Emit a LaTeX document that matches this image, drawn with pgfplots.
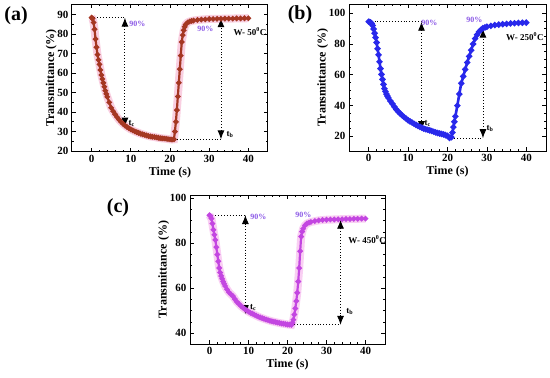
\documentclass[border=0pt]{standalone}
\usepackage{fontspec}
\setmainfont{Liberation Serif}
\usepackage{pgfplots}
\pgfplotsset{compat=1.18}
\usetikzlibrary{arrows.meta}
\definecolor{ared}{RGB}{165,55,35}
\definecolor{apink}{RGB}{245,175,205}
\definecolor{bblue}{RGB}{40,40,235}
\definecolor{cmag}{RGB}{195,70,225}
\definecolor{cpink}{RGB}{245,175,235}
\definecolor{purp}{RGB}{140,90,230}
\tikzset{
  pct/.style={text=purp, font=\fontsize{8}{9}\selectfont\bfseries},
  lab/.style={font=\fontsize{9}{10}\selectfont\bfseries},
}
\pgfplotsset{
  panel/.style={
    scale only axis,
    axis line style={line width=1pt},
    tick style={line width=0.8pt,black},
    tick align=inside,
    xtick pos=both, ytick pos=both,
    major tick length=4pt, minor tick length=2pt,
    xmin=-5, xmax=45,
    xtick={0,10,20,30,40},
    minor x tick num=4,
    /pgf/number format/assume math mode=true,
    ticklabel style={font=\fontsize{11}{12}\selectfont\bfseries},
    xlabel style={font=\fontsize{12}{13}\selectfont\bfseries, yshift=3pt},
    ylabel style={font=\fontsize{12}{13}\selectfont\bfseries, yshift=-6pt},
    xlabel={Time (s)},
    ylabel={Transmittance (\%)},
    clip=false,
  },
  dline/.style={black, line width=0.9pt, dotted, no marks},
  darr/.style={black, line width=0.9pt, dotted, no marks, {Latex[length=9pt,width=7pt]}-{Latex[length=9pt,width=7pt]}},
}
\begin{document}
\begin{tikzpicture}
\useasboundingbox (0,0) rectangle (550pt,-378pt);
% ---------------- (a)
\begin{axis}[panel, at={(72pt,-4pt)}, anchor=north west, width=196pt, height=148pt,
  ymin=19.5, ymax=95.5, ytick={20,30,40,50,60,70,80,90}, minor y tick num=1]
\addplot[apink, line width=8pt, opacity=0.6, no marks] coordinates {
(0,88.5)(0.25,88)(0.5,86)(0.75,82.5)(1,77.5)(1.5,69.5)(2,64.5)(2.5,59)(3,55)(3.5,51)(4,47.8)(4.5,45)(5,42.2)(5.5,40.4)(6,38.8)(7,36.1)(8,34)(9,32.4)(10,31.1)(11,30.1)(12,29.3)(13,28.6)(14,28)(15,27.5)(16,27.2)(17,26.8)(18,26.5)(19,26.3)(20,26)(20.5,25.9)(21,26)(21.5,35)(22,48)(22.5,62)(23,76)(23.5,82)(24,85)(24.5,86)(25,86.5)(26,87)(28,87.5)(30,87.8)(35,88)(40,88.2)};
\addplot[ared, line width=2.2pt, mark=*, mark size=1.5pt] coordinates {
(0,88.5)(0.25,88)(0.5,86)(0.75,82.5)(1,77.5)(1.25,73.3)(1.5,69.5)(1.75,66.8)(2,64.5)(2.25,61.6)(2.5,59)(2.75,57)(3,55)(3.25,53)(3.5,51)(3.75,49.3)(4,47.8)(4.5,45)(5,42.2)(5.5,40.4)(6,38.8)(6.5,37.4)(7,36.1)(7.5,35)(8,34)(8.5,33.1)(9,32.4)(9.5,31.7)(10,31.1)(10.5,30.6)(11,30.1)(11.5,29.7)(12,29.3)(12.5,28.9)(13,28.6)(13.5,28.3)(14,28)(14.5,27.7)(15,27.5)(15.5,27.3)(16,27.2)(16.5,27)(17,26.8)(17.5,26.6)(18,26.5)(18.5,26.4)(19,26.3)(19.5,26.1)(20,26)(20.5,25.9)(21,26)(21.25,30)(21.5,35)(21.75,41)(22,48)(22.25,55)(22.5,62)(22.75,69)(23,76)(23.25,79.5)(23.5,82)(23.75,83.8)(24,85)(24.5,86)(25,86.5)(25.5,86.8)(26,87)(27,87.3)(28,87.5)(29,87.6)(30,87.8)(31,87.8)(32,87.9)(33,87.9)(34,88)(35,88)(36,88)(37,88.1)(38,88.1)(39,88.2)(40,88.2)};
\addplot[dline] coordinates {(0,88.5)(8.5,88.5)};
\addplot[darr] coordinates {(8.5,88.5)(8.5,32.5)};
\addplot[dline] coordinates {(21,26)(33,26)};
\addplot[darr] coordinates {(33,26)(33,88.2)};
\node[pct] at (axis cs:11.7,85.3) {90\%};
\node[pct] at (axis cs:29,82.6) {90\%};
\node[lab, anchor=west] at (axis cs:35.3,81.3) {W- 50\textsuperscript{0}C};
\node[lab] at (axis cs:10.2,34) {t\textsubscript{c}};
\node[lab] at (axis cs:35.3,28.5) {t\textsubscript{b}};
\end{axis}
% ---------------- (b)
\begin{axis}[panel, at={(349pt,-4pt)}, anchor=north west, width=197pt, height=147pt,
  ymin=10.5, ymax=106, ytick={20,40,60,80,100}, minor y tick num=3]
\addplot[bblue, line width=2.6pt, mark=*, mark size=1.6pt] coordinates {
(0,94.5)(0.25,94.3)(0.5,94)(0.75,93.3)(1,92)(1.25,89.8)(1.5,87)(1.75,84.2)(2,81)(2.25,77)(2.5,73)(2.75,68.5)(3,64)(3.25,60.3)(3.5,57)(3.75,53.8)(4,51)(4.25,49.2)(4.5,47.5)(4.75,46.2)(5,45)(5.5,43)(6,41.2)(6.5,39.3)(7,37.5)(7.5,36.1)(8,34.8)(8.5,33.6)(9,32.5)(9.5,31.5)(10,30.5)(10.5,29.7)(11,29)(11.5,28.2)(12,27.5)(12.5,26.8)(13,26.2)(13.5,25.6)(14,25)(14.5,24.6)(15,24.3)(15.5,23.9)(16,23.5)(16.5,23)(17,22.6)(17.5,22.2)(18,21.9)(18.5,21.6)(19,21.3)(19.5,20.8)(20,20.3)(20.5,19)(21,19.5)(21.25,22.5)(21.5,26)(21.75,29.5)(22,33)(22.5,40)(23,47.5)(23.5,54.5)(24,59)(24.5,63.5)(25,68)(25.5,72)(26,76)(26.5,80)(27,83.5)(27.5,86)(28,88)(28.5,89.3)(29,90.3)(29.5,90.8)(30,91.2)(31,91.8)(32,92.3)(33,92.6)(34,92.9)(35,93.1)(36,93.4)(37,93.5)(38,93.7)(39,93.8)(40,93.9)};
\addplot[dline] coordinates {(0,94.5)(13.4,94.5)};
\addplot[darr] coordinates {(13.4,94.5)(13.4,24)};
\addplot[dline] coordinates {(21,18.8)(29,18.8)};
\addplot[darr] coordinates {(29,18.8)(29,90)};
\node[pct] at (axis cs:15.4,93.5) {90\%};
\node[pct] at (axis cs:26.8,95.8) {90\%};
\node[lab, anchor=west] at (axis cs:34,84.8) {W- 250\textsuperscript{0}C};
\node[lab] at (axis cs:15,28.5) {t\textsubscript{c}};
\node[lab] at (axis cs:30.8,25.3) {t\textsubscript{b}};
\end{axis}
% ---------------- (c)
\begin{axis}[panel, at={(190pt,-195pt)}, anchor=north west, width=195pt, height=149pt,
  ymin=35.2, ymax=101.5, ytick={40,60,80,100}, minor y tick num=3]
\addplot[cpink, line width=8pt, opacity=0.6, no marks] coordinates {
(0,92.5)(0.5,91)(1,86)(1.5,81.5)(2,75)(2.5,69)(3,65.5)(3.5,63)(4,61)(4.5,59.5)(5,58.2)(6,56.5)(7,54)(8,52.2)(9,50.8)(10,49.6)(11,48.7)(12,47.8)(13,47)(14,46.4)(15,45.8)(16,45.3)(17,44.9)(18,44.5)(19,44.2)(20,43.9)(21,43.7)(21.5,46)(22,51)(22.5,58)(23,69)(23.5,83)(24,86.5)(24.5,88)(25,88.8)(26,89.5)(28,90.2)(30,90.5)(35,90.8)(40,91)};
\addplot[cmag, line width=2.2pt, mark=*, mark size=1.5pt] coordinates {
(0,92.5)(0.25,92.2)(0.5,91)(0.75,88.8)(1,86)(1.25,83.8)(1.5,81.5)(1.75,78.3)(2,75)(2.25,72)(2.5,69)(2.75,67)(3,65.5)(3.25,64.2)(3.5,63)(3.75,62)(4,61)(4.5,59.5)(5,58.2)(5.5,57.3)(6,56.5)(6.5,55.2)(7,54)(7.5,53.1)(8,52.2)(8.5,51.5)(9,50.8)(9.5,50.2)(10,49.6)(10.5,49.1)(11,48.7)(11.5,48.2)(12,47.8)(12.5,47.4)(13,47)(13.5,46.7)(14,46.4)(14.5,46.1)(15,45.8)(15.5,45.5)(16,45.3)(16.5,45.1)(17,44.9)(17.5,44.7)(18,44.5)(18.5,44.3)(19,44.2)(19.5,44)(20,43.9)(20.5,43.8)(21,43.7)(21.25,44.6)(21.5,46)(21.75,48.3)(22,51)(22.25,54.3)(22.5,58)(22.75,63)(23,69)(23.25,76.5)(23.5,83)(23.75,85.2)(24,86.5)(24.5,88)(25,88.8)(25.5,89.2)(26,89.5)(27,89.9)(28,90.2)(29,90.4)(30,90.5)(31,90.6)(32,90.6)(33,90.7)(34,90.7)(35,90.8)(36,90.8)(37,90.9)(38,90.9)(39,91)(40,91)};
\addplot[dline] coordinates {(0,92.6)(9.2,92.6)};
\addplot[darr] coordinates {(9.2,92.6)(9.2,48.5)};
\addplot[dline] coordinates {(21,43.7)(33.6,43.7)};
\addplot[darr] coordinates {(33.6,43.7)(33.6,90.5)};
\node[pct] at (axis cs:12.5,91.8) {90\%};
\node[pct] at (axis cs:24.1,92.8) {90\%};
\node[lab, anchor=west] at (axis cs:34.7,81.5) {W- 450\textsuperscript{0}C};
\node[lab] at (axis cs:11.2,51.5) {t\textsubscript{c}};
\node[lab] at (axis cs:36,49.6) {t\textsubscript{b}};
\end{axis}
\node[font=\fontsize{20}{22}\selectfont\bfseries] at (16pt,-16pt) {(a)};
\node[font=\fontsize{20}{22}\selectfont\bfseries] at (300pt,-15pt) {(b)};
\node[font=\fontsize{20}{22}\selectfont\bfseries] at (118pt,-208pt) {(c)};
\end{tikzpicture}
\end{document}
